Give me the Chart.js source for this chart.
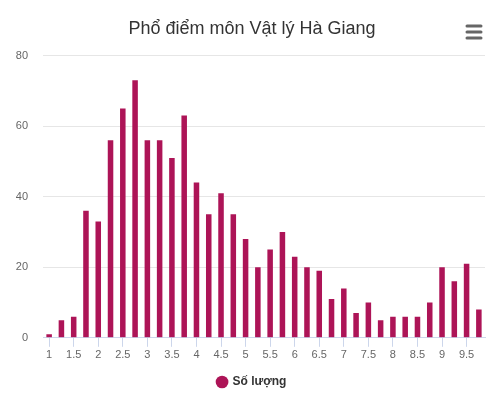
<!DOCTYPE html>
<html lang="vi">
<head>
    <meta charset="UTF-8">
    <title>Phổ điểm môn Vật lý Hà Giang</title>
    <script src="https://cdn.jsdelivr.net/npm/chart.js"></script>
    <style>
        body { margin: 0; background: #fff; }
        .wrap { width: 504px; height: 398px; }
    </style>
</head>
<body>
    <div class="wrap">
        <canvas id="scoreChart" width="504" height="398"></canvas>
    </div>
    <script>
// Điểm từ 1 đến 9.75, bước 0.25
const scores = ['1', '1.25', '1.5', '1.75', '2', '2.25', '2.5', '2.75', '3', '3.25', '3.5', '3.75',
    '4', '4.25', '4.5', '4.75', '5', '5.25', '5.5', '5.75', '6', '6.25', '6.5', '6.75',
    '7', '7.25', '7.5', '7.75', '8', '8.25', '8.5', '8.75', '9', '9.25', '9.5', '9.75'];
const counts = [1, 5, 6, 36, 33, 56, 65, 73, 56, 56, 51, 63,
    44, 35, 41, 35, 28, 20, 25, 30, 23, 20, 19, 11,
    14, 7, 10, 5, 6, 6, 6, 10, 20, 16, 21, 8];
const yTicks = [0, 20, 40, 60, 80];

const FONT = '"Liberation Sans", Arial, sans-serif';

// nút menu góc phải
const menuIcon = {
    id: 'menuIcon',
    afterDraw(chart) {
        const ctx = chart.ctx;
        ctx.save();
        ctx.strokeStyle = '#666';
        ctx.lineWidth = 3;
        ctx.lineCap = 'round';
        [26, 32, 38].forEach(y => {
            ctx.beginPath();
            ctx.moveTo(467, y);
            ctx.lineTo(481, y);
            ctx.stroke();
        });
        ctx.restore();
    }
};

new Chart(document.getElementById('scoreChart'), {
    type: 'bar',
    data: {
        labels: scores,
        datasets: [{
            label: 'Số lượng',
            data: counts,
            backgroundColor: '#ad1457',
            borderWidth: 0,
            barPercentage: 0.45,
            categoryPercentage: 1
        }]
    },
    options: {
        responsive: false,
        animation: false,
        layout: { padding: { left: 8, right: 8, top: 8, bottom: 0 } },
        plugins: {
            title: {
                display: true,
                text: 'Phổ điểm môn Vật lý Hà Giang',
                color: '#333',
                font: { family: FONT, size: 18, weight: 'normal' },
                padding: { top: 10, bottom: 16 }
            },
            legend: {
                position: 'bottom',
                labels: {
                    usePointStyle: true,
                    pointStyle: 'circle',
                    boxWidth: 9,
                    boxHeight: 9,
                    color: '#333',
                    font: { family: FONT, size: 12, weight: 'bold' },
                    padding: 12
                }
            },
            tooltip: { enabled: false }
        },
        scales: {
            x: {
                grid: {
                    offset: false,
                    drawOnChartArea: false,
                    tickLength: 9,
                    color: ctx => ctx.index % 2 === 0 ? '#ccd6eb' : 'rgba(0,0,0,0)'
                },
                border: { color: '#ccd6eb' },
                ticks: {
                    autoSkip: false,
                    maxRotation: 0,
                    color: '#666',
                    font: { family: FONT, size: 11 },
                    padding: 2,
                    callback: function (val, i) { return i % 2 === 0 ? this.getLabelForValue(val) : ''; }
                }
            },
            y: {
                min: 0,
                max: 80,
                afterBuildTicks: axis => { axis.ticks = yTicks.map(v => ({ value: v })); },
                afterFit: axis => { axis.width = 35; },
                grid: { color: '#e6e6e6', drawTicks: false },
                border: { display: false },
                ticks: {
                    color: '#666',
                    font: { family: FONT, size: 11 },
                    padding: 15
                }
            },
            // trục phụ rỗng để chừa lề phải
            yRight: {
                position: 'right',
                afterFit: axis => { axis.width = 11; },
                grid: { display: false },
                border: { display: false },
                ticks: { display: false }
            }
        }
    },
    plugins: [menuIcon]
});
    </script>
</body>
</html>
